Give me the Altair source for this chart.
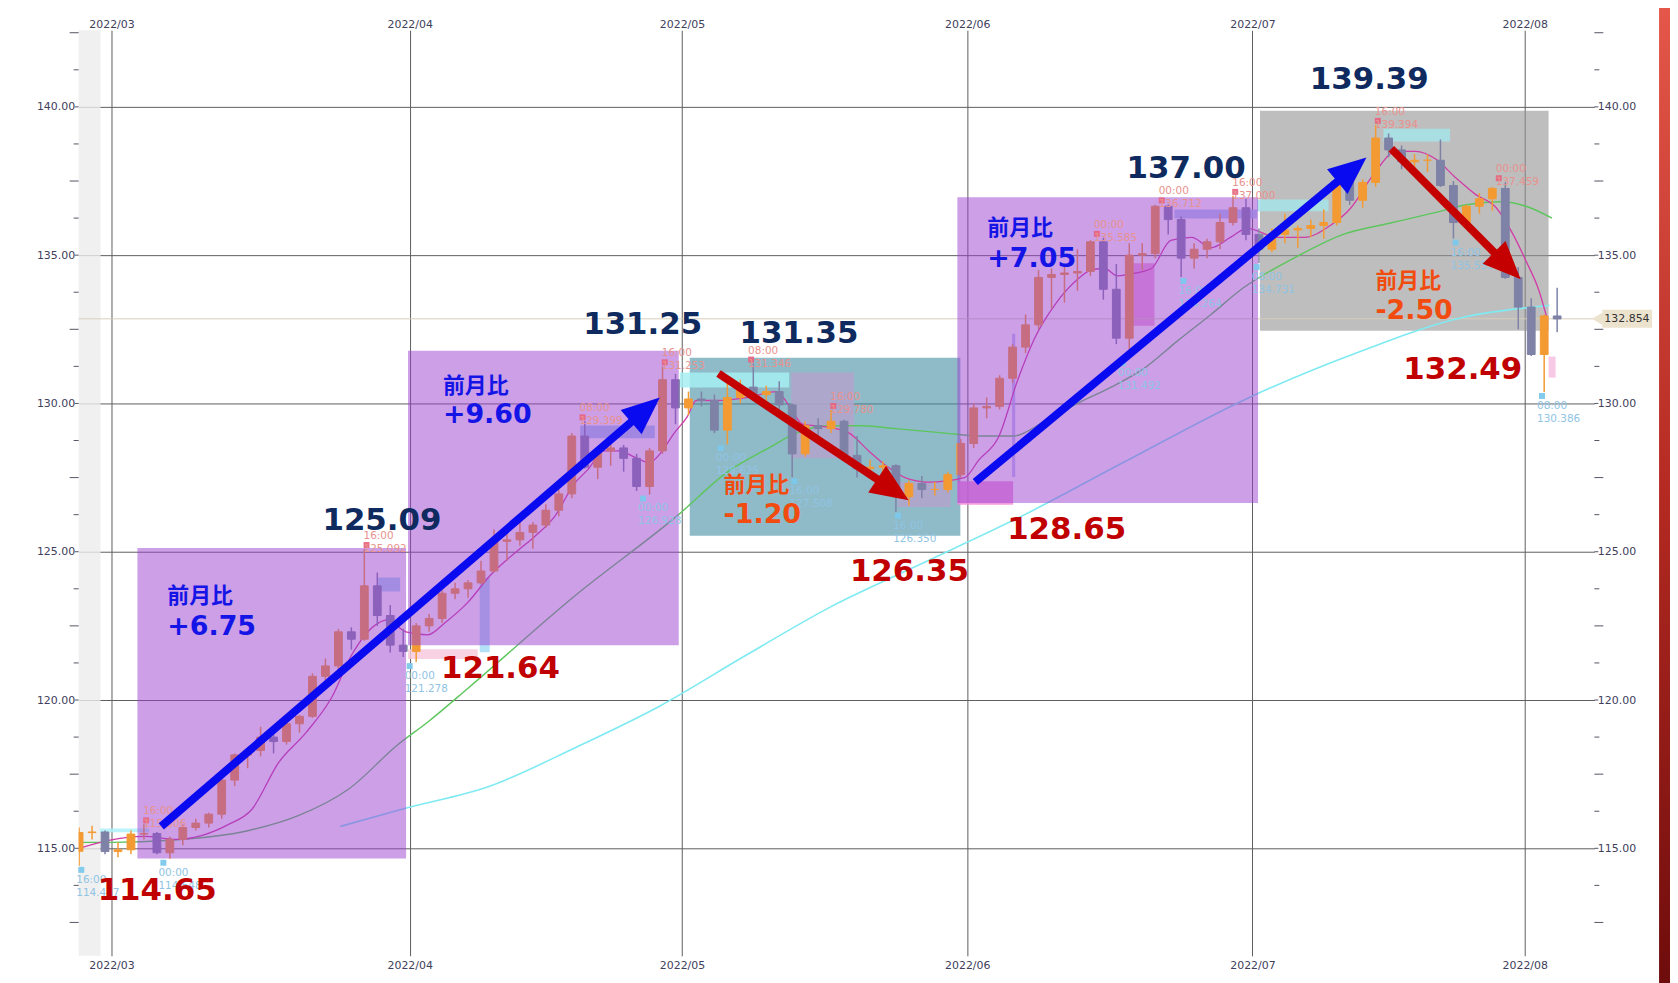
import math
import json
import altair as alt
import pandas as pd

# ---------------- geometry of the plot ----------------
W, H = 1523, 930
X_DOMAIN = [-2.533, 114.37]      # trading-day index (0 = 2022-03-01)
Y_DOMAIN = [111.376, 142.584]    # USD/JPY
KX = W / (X_DOMAIN[1] - X_DOMAIN[0])
KY = H / (Y_DOMAIN[1] - Y_DOMAIN[0])

# ---------------- calendar ----------------
TRADING_DAYS = list(pd.bdate_range("2022-02-24", "2022-08-03"))
ORIGIN = TRADING_DAYS.index(pd.Timestamp("2022-03-01"))
DAY_INDEX = [i - ORIGIN for i in range(len(TRADING_DAYS))]
MONTH_STARTS = ["2022-03-01", "2022-04-01", "2022-05-02", "2022-06-01", "2022-07-01", "2022-08-01"]
MONTH_LABELS = ["2022/03", "2022/04", "2022/05", "2022/06", "2022/07", "2022/08"]
MONTH_DAYS = [TRADING_DAYS.index(pd.Timestamp(m)) - ORIGIN for m in MONTH_STARTS]

# ---------------- daily candles ----------------
OPEN = [114.90, 115.53, 115.55,
        114.89, 114.95, 115.48, 115.50, 114.85, 115.30, 115.70, 115.85, 116.15, 117.30, 118.15, 118.30,
        118.75, 118.60, 119.20, 119.45, 120.80, 121.15, 122.30, 122.05, 123.85, 122.85, 121.85,
        121.64, 122.50, 122.75, 123.60, 123.75, 123.95, 124.35, 125.35, 125.40, 125.65, 125.90, 126.40,
        126.95, 128.90, 127.85, 128.40, 128.50, 128.15, 127.20, 128.40, 130.80,
        129.85, 130.15, 130.10, 129.10, 130.20, 130.55, 130.30, 130.40, 129.95, 128.30, 129.25, 129.15,
        129.40, 128.25, 127.80, 127.85, 127.90, 126.85, 127.30, 127.10, 127.10, 127.60,
        128.65, 129.85, 129.90, 130.85, 131.90, 132.65, 134.25, 134.35, 134.40, 134.45, 135.45, 133.85,
        132.20, 135.00, 135.05, 136.65, 136.20, 134.90, 135.20, 135.45, 136.10, 136.60,
        135.70, 135.20, 135.70, 135.85, 135.90, 136.00, 136.10, 137.45, 136.85, 137.45, 138.95, 138.55,
        138.15, 138.20, 138.20, 137.35, 136.10, 136.65, 136.90, 137.25, 134.25,
        133.25, 131.65, 132.95]
HIGH = [115.70, 115.76, 115.60,
        115.20, 115.60, 115.81, 115.55, 115.40, 115.80, 116.00, 116.20, 117.40, 118.20, 118.40, 119.10,
        119.00, 119.40, 119.50, 120.90, 121.40, 122.40, 122.45, 125.09, 124.30, 123.20, 122.40,
        122.60, 122.90, 123.70, 123.95, 124.05, 124.70, 125.75, 125.60, 126.30, 126.00, 126.60, 127.10,
        129.00, 129.40, 128.50, 128.70, 128.60, 128.30, 128.50, 131.25, 131.00,
        130.40, 130.40, 130.30, 130.80, 130.80, 131.35, 130.60, 130.75, 130.00, 129.40, 129.50, 129.78,
        129.45, 128.90, 128.10, 128.05, 127.95, 127.40, 127.55, 127.35, 127.70, 128.80,
        130.00, 130.20, 130.95, 132.00, 133.00, 134.50, 134.55, 134.60, 135.20, 135.50, 135.59, 134.70,
        135.40, 135.40, 136.70, 136.71, 136.30, 135.40, 135.55, 136.40, 137.00, 136.90,
        135.90, 135.90, 136.40, 136.00, 136.20, 136.55, 137.75, 137.85, 137.55, 139.39, 139.10, 138.70,
        138.40, 138.40, 138.90, 137.50, 136.70, 137.10, 137.30, 137.46, 134.60,
        133.55, 133.00, 133.90]
LOW = [114.41, 115.30, 114.80,
       114.70, 114.80, 115.30, 114.80, 114.65, 115.10, 115.60, 115.70, 116.00, 117.10, 117.70, 118.10,
       118.20, 118.50, 118.90, 119.40, 120.50, 121.00, 121.70, 122.00, 122.50, 121.60, 121.45,
       121.28, 122.30, 122.60, 123.40, 123.45, 123.90, 124.30, 124.70, 125.20, 125.10, 125.80, 126.20,
       126.80, 127.80, 127.45, 127.90, 127.70, 127.05, 126.93, 128.30, 129.30,
       129.60, 129.90, 129.00, 128.62, 130.00, 130.20, 129.90, 129.80, 127.51, 128.20, 128.80, 129.00,
       128.20, 127.50, 127.50, 127.40, 126.35, 126.55, 126.80, 126.90, 127.00, 127.50,
       128.50, 129.50, 129.80, 130.70, 131.70, 132.50, 133.20, 133.40, 133.80, 134.30, 133.50, 132.00,
       131.49, 134.50, 134.90, 135.70, 134.26, 134.55, 134.90, 135.20, 136.00, 135.50,
       134.73, 135.10, 135.40, 135.25, 135.60, 135.55, 136.00, 136.70, 136.60, 137.30, 138.30, 137.90,
       137.90, 137.80, 137.30, 135.56, 135.90, 136.40, 136.50, 134.20, 132.50,
       131.60, 130.39, 132.40]
CLOSE = [115.53, 115.55, 114.89,
         114.95, 115.48, 115.50, 114.85, 115.30, 115.70, 115.85, 116.15, 117.30, 118.15, 118.30, 118.75,
         118.60, 119.20, 119.45, 120.80, 121.15, 122.30, 122.05, 123.85, 122.85, 121.85, 121.64,
         122.50, 122.75, 123.60, 123.75, 123.95, 124.35, 125.35, 125.40, 125.65, 125.90, 126.40, 126.95,
         128.90, 127.85, 128.40, 128.50, 128.15, 127.20, 128.40, 130.80, 129.85,
         130.15, 130.10, 129.10, 130.20, 130.55, 130.30, 130.40, 129.95, 128.30, 129.25, 129.15, 129.40,
         128.25, 127.80, 127.85, 127.90, 126.85, 127.30, 127.10, 127.10, 127.60, 128.65,
         129.85, 129.90, 130.85, 131.90, 132.65, 134.25, 134.35, 134.40, 134.45, 135.45, 133.85, 132.20,
         135.00, 135.05, 136.65, 136.20, 134.90, 135.20, 135.45, 136.10, 136.60, 135.70,
         135.20, 135.70, 135.85, 135.90, 136.00, 136.10, 137.45, 136.85, 137.45, 138.95, 138.55, 138.15,
         138.20, 138.20, 137.35, 136.10, 136.65, 136.90, 137.25, 134.25, 133.25,
         131.65, 132.95, 132.85]
CURRENT_PRICE = 132.854

# ---------------- moving averages ----------------
MA_SHORT_DAY = [-2.5, -0.2, 2.5, 5.0, 7.0, 9.0, 10.8, 12.9, 15.0, 17.0, 18.5, 20.6, 21.3, 22.7, 24.4, 25.7,
                27.5, 29.2, 31.5, 32.6, 34.2, 35.7, 36.7, 38.0, 39.2, 40.3, 41.5, 42.3, 43.4, 44.4, 45.1,
                46.7, 49.0, 51.3, 52.3, 53.3, 55.3, 56.9, 58.4, 59.9, 61.2, 63.0, 65.8, 66.9, 68.4, 69.9,
                71.2, 72.8, 74.3, 75.6, 76.6, 77.6, 78.4, 80.2, 81.7, 83.3, 84.8, 86.3, 87.6, 89.9, 92.0,
                94.0, 95.6, 97.3, 99.1, 100.6, 102.1, 103.7, 105.2, 106.8, 108.1, 109.1, 110.1, 110.7]
MA_SHORT_VAL = [115.0, 115.27, 115.4, 115.3, 115.44, 115.8, 116.3, 117.9, 118.9, 120.1, 121.5, 122.6, 122.7,
                122.3, 122.2, 122.6, 123.3, 124.2, 125.1, 125.5, 126.2, 127.3, 127.75, 128.4, 128.4, 128.2,
                128.0, 128.3, 129.0, 129.55, 130.1, 130.1, 130.2, 130.4, 129.9, 129.3, 129.2, 129.0, 128.4,
                127.85, 127.5, 127.35, 127.5, 128.1, 128.85, 130.8, 132.2, 133.35, 134.1, 134.5, 134.55,
                134.3, 134.35, 134.55, 135.5, 135.6, 135.25, 135.6, 135.9, 135.6, 135.6, 136.0, 136.6,
                137.7, 138.5, 138.5, 138.25, 137.6, 137.05, 136.6, 135.7, 134.8, 133.8, 132.9]
MA_MID_DAY = [-2.5, 0.0, 4.6, 10.6, 14.4, 18.3, 22.1, 24.4, 27.5, 35.7, 43.6, 47.7, 50.7, 52.8, 55.3, 57.9,
              60.5, 64.3, 66.9, 69.5, 72.0, 74.5, 77.1, 79.7, 82.2, 84.8, 87.3, 91.2, 95.0, 98.8, 102.7,
              104.5, 107.1, 109.1, 111.1]
MA_MID_VAL = [115.2, 115.2, 115.27, 115.6, 116.1, 117.0, 118.5, 119.26, 120.4, 123.5, 126.2, 127.75, 128.5,
              129.0, 129.25, 129.25, 129.15, 129.0, 128.9, 128.9, 129.4, 130.0, 130.55, 131.2, 132.1, 133.0,
              133.9, 134.9, 135.7, 136.1, 136.5, 136.7, 136.8, 136.65, 136.25]
MA_LONG_DAY = [17.65, 22.6, 29.2, 35.8, 42.3, 48.9, 55.5, 62.0, 70.2, 78.0, 87.6, 96.0, 104.2, 110.9]
MA_LONG_VAL = [115.74, 116.34, 117.1, 118.4, 119.8, 121.5, 123.15, 124.5, 126.2, 128.0, 130.17, 131.7,
               132.9, 133.3]

# ---------------- monthly boxes ----------------
BOX_X0 = [2.0, 22.87, 44.6, 65.24, 88.58]
BOX_X1 = [22.72, 43.75, 65.47, 88.43, 110.84]
BOX_TOP = [125.13, 131.78, 131.54, 136.95, 139.87]
BOX_BOTTOM = [114.66, 121.85, 125.54, 126.64, 132.45]
BOX_COLOR = ["#9a40d0", "#9a40d0", "#448ca3", "#9a40d0", "#939393"]
BOX_ON_TOP = [True, True, False, True, False]

# ---------------- small indicator zones ----------------
ZONE_X0 = [-0.9, 20.57, 22.87, 28.4, 36.15, 43.83, 52.42, 60.64, 65.24, 78.29, 81.98, 88.35, 98.1, 110.84, 69.46]
ZONE_X1 = [2.9, 22.26, 28.25, 29.17, 41.91, 52.27, 57.26, 64.71, 69.54, 80.44, 88.35, 93.87, 103.24, 111.38, 69.7]
ZONE_TOP = [115.67, 124.13, 121.71, 124.13, 129.26, 131.04, 131.04, 127.35, 127.38, 134.73, 136.54, 136.88,
            139.26, 131.58, 132.35]
ZONE_BOTTOM = [115.54, 123.66, 121.38, 121.61, 128.83, 130.54, 128.15, 126.51, 126.58, 132.62, 136.24, 136.48,
               138.83, 130.87, 127.52]
ZONE_COLOR = ["#aef0f8", "#9fd3f5", "#f7c9dd", "#a4dcf7", "#9cc6f2", "#a6eef2", "#b4a3cc", "#b4a3cc",
              "#f08ad8", "#f09ad8", "#a8c4f4", "#a6e4ea", "#a6e4ea", "#f6bfe0", "#b8b8f8"]

# ---------------- high / low markers ----------------
HI_DAY = [2.67, 19.67, 36.33, 42.67, 49.33, 55.67, 76.0, 81.0, 86.67, 97.67, 107.0]
HI_TIME = ["16:00", "16:00", "08:00", "16:00", "08:00", "16:00", "00:00", "00:00", "16:00", "16:00", "00:00"]
HI_VALUE = ["115.806", "125.092", "129.399", "131.253", "131.346", "129.780", "135.585", "136.712",
            "137.000", "139.394", "137.459"]
LO_DAY = [-2.33, 4.0, 23.0, 41.0, 47.0, 52.67, 60.67, 78.0, 82.67, 88.33, 103.67, 110.33]
LO_TIME = ["16:00", "00:00", "00:00", "00:00", "00:00", "16:00", "16:00", "00:00", "16:00", "08:00",
           "16:00", "08:00"]
LO_VALUE = ["114.407", "114.648", "121.278", "126.928", "128.625", "127.508", "126.350", "131.492",
            "134.264", "134.731", "135.555", "130.386"]

# ---------------- big annotations ----------------
BIG_TEXT = ["114.65", "125.09", "121.64", "131.25", "131.35", "126.35", "128.65", "137.00", "139.39", "132.49"]
BIG_DAY = [-1.07, 16.27, 25.41, 36.38, 48.43, 56.95, 69.08, 78.29, 92.42, 99.63]
BIG_PRICE = [113.56, 126.04, 121.04, 132.65, 132.35, 124.33, 125.74, 137.89, 140.91, 131.11]
BIG_IS_HIGH = [False, True, False, True, True, False, False, True, True, False]

MOM_TITLE = ["前月比", "前月比", "前月比", "前月比", "前月比"]
MOM_VALUE = ["+6.75", "+9.60", "-1.20", "+7.05", "-2.50"]
MOM_DAY = [4.30, 25.56, 47.21, 67.55, 97.48]
MOM_TITLE_PRICE = [123.49, 130.60, 127.25, 135.91, 134.13]
MOM_VALUE_PRICE = [122.45, 129.60, 126.24, 134.87, 133.12]

# ---------------- arrows ----------------
ARROW_START_DAY = [3.84, 46.82, 66.62, 98.71]
ARROW_START_PRICE = [115.74, 131.01, 127.35, 138.59]
ARROW_TIP_DAY = [42.29, 61.48, 96.79, 108.69]
ARROW_TIP_PRICE = [130.20, 126.74, 138.29, 134.19]
ARROW_COLOR = ["#0a0af0", "#c40000", "#0a0af0", "#c40000"]
HEAD_LEN = 38

# ---------------- axis ticks ----------------
Y_LABEL_TICKS = [115, 120, 125, 130, 135, 140]
Y_LONG_TICKS = [112.5, 117.5, 122.5, 127.5, 132.5, 137.5, 142.5]
Y_SHORT_TICKS = [113.75, 116.25, 118.75, 121.25, 123.75, 126.25, 128.75, 131.25, 133.75, 136.25, 138.75, 141.25]

# =============================================================
FONT = "DejaVu Sans"
AXIS_COLOR = "#40405c"
GRID_COLOR = "#5e5e5e"

XS = alt.Scale(domain=X_DOMAIN, nice=False, zero=False)
YS = alt.Scale(domain=Y_DOMAIN, nice=False, zero=False)
x_label_expr = "{}[indexof({}, datum.value)]".format(json.dumps(MONTH_LABELS).replace('"', "'"),
                                                     json.dumps(MONTH_DAYS))
X_AX = alt.Axis(values=MONTH_DAYS, labelExpr=x_label_expr, grid=True, gridColor=GRID_COLOR, gridWidth=1,
                ticks=False, domain=False, labelFont=FONT, labelFontSize=11, labelColor=AXIS_COLOR,
                labelPadding=4, labelFlush=False, title=None, orient="bottom")
Y_AX = alt.Axis(values=Y_LABEL_TICKS, format=".2f", grid=True, gridColor=GRID_COLOR, gridWidth=1,
                ticks=False, domain=False, labelFont=FONT, labelFontSize=11, labelColor=AXIS_COLOR,
                labelPadding=4, title=None, orient="left")
X_AX_TOP = alt.Axis(values=MONTH_DAYS, labelExpr=x_label_expr, grid=False, ticks=False, domain=False,
                    labelFont=FONT, labelFontSize=11, labelColor=AXIS_COLOR, labelPadding=1,
                    labelFlush=False, title=None, orient="top")
Y_AX_RIGHT = alt.Axis(values=Y_LABEL_TICKS, format=".2f", grid=False, ticks=False, domain=False,
                      labelFont=FONT, labelFontSize=11, labelColor=AXIS_COLOR, labelPadding=3,
                      title=None, orient="right")


def ex(f):
    return alt.X(f, type="quantitative", scale=XS, axis=X_AX)


def ey(f):
    return alt.Y(f, type="quantitative", scale=YS, axis=Y_AX)


one = pd.DataFrame({"a": [0]})
layers = []

# light stripe at the left edge
layers.append(alt.Chart(one).mark_rect(color="#ececec", opacity=0.8).encode(
    x=alt.value(0), x2=alt.value(22), y=alt.value(0), y2=alt.value(H)))

# boxes below the candles
boxes = pd.DataFrame({"x0": BOX_X0, "x1": BOX_X1, "top": BOX_TOP, "bot": BOX_BOTTOM,
                      "col": BOX_COLOR, "on_top": BOX_ON_TOP})
layers.append(alt.Chart(boxes[~boxes.on_top]).mark_rect(opacity=0.6).encode(
    x=ex("x0"), x2=alt.X2("x1"), y=ey("top"), y2=alt.Y2("bot"), color=alt.Color("col:N", scale=None)))

zones = pd.DataFrame({"x0": ZONE_X0, "x1": ZONE_X1, "top": ZONE_TOP, "bot": ZONE_BOTTOM, "col": ZONE_COLOR})
layers.append(alt.Chart(zones).mark_rect(opacity=0.85).encode(
    x=ex("x0"), x2=alt.X2("x1"), y=ey("top"), y2=alt.Y2("bot"), color=alt.Color("col:N", scale=None)))

# current price line
layers.append(alt.Chart(pd.DataFrame({"p": [CURRENT_PRICE]})).mark_rule(color="#d8d0bc", strokeWidth=1).encode(
    y=ey("p")))

# moving averages
for days, vals, col, sw in [(MA_LONG_DAY, MA_LONG_VAL, "#7eeaf2", 1.6),
                            (MA_MID_DAY, MA_MID_VAL, "#5cc65c", 1.4),
                            (MA_SHORT_DAY, MA_SHORT_VAL, "#d23ca6", 1.3)]:
    layers.append(alt.Chart(pd.DataFrame({"d": days, "v": vals})).mark_line(
        color=col, strokeWidth=sw, clip=True, interpolate="monotone").encode(x=ex("d"), y=ey("v")))

# candles
candles = pd.DataFrame({"d": DAY_INDEX, "o": OPEN, "h": HIGH, "l": LOW, "c": CLOSE})
candles["mid"] = candles.d + 0.5
candles["b0"] = candles.d + 0.2
candles["b1"] = candles.d + 0.8
candles["col"] = ["#f39a33" if c >= o else "#7e82a6" for o, c in zip(OPEN, CLOSE)]
layers.append(alt.Chart(candles).mark_rule(strokeWidth=1.5, clip=True).encode(
    x=ex("mid"), y=ey("h"), y2=alt.Y2("l"), color=alt.Color("col:N", scale=None)))
layers.append(alt.Chart(candles).mark_rect(clip=True, strokeWidth=1).encode(
    x=ex("b0"), x2=alt.X2("b1"), y=ey("o"), y2=alt.Y2("c"),
    color=alt.Color("col:N", scale=None), stroke=alt.Stroke("col:N", scale=None)))

# purple boxes on top (translucent)
layers.append(alt.Chart(boxes[boxes.on_top]).mark_rect(opacity=0.5).encode(
    x=ex("x0"), x2=alt.X2("x1"), y=ey("top"), y2=alt.Y2("bot"), color=alt.Color("col:N", scale=None)))

# high / low markers
hi = pd.DataFrame({"d": HI_DAY, "p": [float(v) for v in HI_VALUE],
                   "t": [a + "\n" + b for a, b in zip(HI_TIME, HI_VALUE)]})
lo = pd.DataFrame({"d": LO_DAY, "p": [float(v) for v in LO_VALUE],
                   "t": [a + "\n" + b for a, b in zip(LO_TIME, LO_VALUE)]})
layers.append(alt.Chart(hi).mark_square(size=36, color="#e8607e", opacity=0.9).encode(
    x=ex("d"), y=ey("p"), yOffset=alt.value(-4)))
layers.append(alt.Chart(lo).mark_square(size=36, color="#7cc8ec", opacity=0.95).encode(
    x=ex("d"), y=ey("p"), yOffset=alt.value(4)))
layers.append(alt.Chart(hi).mark_text(align="left", baseline="bottom", dx=-3, dy=-8, fontSize=10.5,
                                      font=FONT, color="#e8928e", lineBreak="\n", lineHeight=13).encode(
    x=ex("d"), y=ey("p"), text="t:N"))
layers.append(alt.Chart(lo).mark_text(align="left", baseline="top", dx=-5, dy=9, fontSize=10.5,
                                      font=FONT, color="#8fc4e4", lineBreak="\n", lineHeight=13).encode(
    x=ex("d"), y=ey("p"), text="t:N"))

# tick marks on both sides
for vals, length in [(Y_LABEL_TICKS, 4), (Y_LONG_TICKS, 9), (Y_SHORT_TICKS, 5)]:
    tdf = pd.DataFrame({"v": vals})
    layers.append(alt.Chart(tdf).mark_rule(color="#555566", strokeWidth=1).encode(
        x=alt.value(-length), x2=alt.value(0), y=ey("v")))
    layers.append(alt.Chart(tdf).mark_rule(color="#555566", strokeWidth=1).encode(
        x=alt.value(W), x2=alt.value(W + length), y=ey("v")))

# arrows
line_rows, head_rows = [], []
for i, (sd, sp, td, tp, col) in enumerate(zip(ARROW_START_DAY, ARROW_START_PRICE, ARROW_TIP_DAY,
                                              ARROW_TIP_PRICE, ARROW_COLOR)):
    dxp = (td - sd) * KX
    dyp = -(tp - sp) * KY
    n = math.hypot(dxp, dyp)
    ux, uy = dxp / n, dyp / n
    ang = math.degrees(math.atan2(ux, -uy)) % 360
    cd = td - (HEAD_LEN / 2) * ux / KX
    cp = tp + (HEAD_LEN / 2) * uy / KY
    line_rows += [{"id": i, "k": 0, "d": sd, "p": sp, "col": col},
                  {"id": i, "k": 1, "d": cd, "p": cp, "col": col}]
    head_rows.append({"d": cd, "p": cp, "ang": ang, "col": col})
layers.append(alt.Chart(pd.DataFrame(line_rows)).mark_line(strokeWidth=8, strokeCap="butt").encode(
    x=ex("d"), y=ey("p"), detail="id:N", order="k:Q", color=alt.Color("col:N", scale=None)))
layers.append(alt.Chart(pd.DataFrame(head_rows)).mark_point(
    shape="M0,-1L-0.85,1L0.85,1Z", filled=True, size=HEAD_LEN ** 2, opacity=1, strokeWidth=0).encode(
    x=ex("d"), y=ey("p"), angle=alt.Angle("ang:Q", scale=None), color=alt.Color("col:N", scale=None)))

# big price annotations
big = pd.DataFrame({"d": BIG_DAY, "p": BIG_PRICE, "t": BIG_TEXT,
                    "col": ["#0f2a5e" if h else "#c00000" for h in BIG_IS_HIGH]})
layers.append(alt.Chart(big).mark_text(align="left", baseline="middle", fontSize=31, font=FONT,
                                       fontWeight="bold").encode(
    x=ex("d"), y=ey("p"), text="t:N", color=alt.Color("col:N", scale=None)))

mom_col = ["#1414e6" if v.startswith("+") else "#f24b0f" for v in MOM_VALUE]
mom_t = pd.DataFrame({"d": MOM_DAY, "p": MOM_TITLE_PRICE, "t": MOM_TITLE, "col": mom_col})
mom_v = pd.DataFrame({"d": MOM_DAY, "p": MOM_VALUE_PRICE, "t": MOM_VALUE, "col": mom_col})
layers.append(alt.Chart(mom_t).mark_text(align="left", baseline="middle", fontSize=22,
                                         font="Noto Sans CJK JP", fontWeight="bold").encode(
    x=ex("d"), y=ey("p"), text="t:N", color=alt.Color("col:N", scale=None)))
layers.append(alt.Chart(mom_v).mark_text(align="left", baseline="middle", fontSize=27, font=FONT,
                                         fontWeight="bold").encode(
    x=ex("d"), y=ey("p"), text="t:N", color=alt.Color("col:N", scale=None)))

# current price tag on the right axis
tag = pd.DataFrame({"p": [CURRENT_PRICE], "hi": [CURRENT_PRICE + 9 / KY], "lo": [CURRENT_PRICE - 9 / KY],
                    "t": ["{:.3f}".format(CURRENT_PRICE)]})
layers.append(alt.Chart(tag).mark_rect(color="#ece3cf").encode(
    x=alt.value(W + 8), x2=alt.value(W + 58), y=ey("hi"), y2=alt.Y2("lo")))
layers.append(alt.Chart(tag).mark_point(shape="triangle-left", filled=True, size=230, color="#ece3cf",
                                        opacity=1).encode(x=alt.value(W + 4), y=ey("p")))
layers.append(alt.Chart(tag).mark_text(align="left", baseline="middle", fontSize=11, font=FONT,
                                       color="#333333").encode(x=alt.value(W + 10), y=ey("p"), text="t:N"))

# red frame strip on the right
grad = alt.LinearGradient(gradient="linear", x1=0, x2=0, y1=0, y2=1,
                          stops=[alt.GradientStop(color="#e4574a", offset=0),
                                 alt.GradientStop(color="#b42a22", offset=0.5),
                                 alt.GradientStop(color="#6e0c0c", offset=1)])
layers.append(alt.Chart(one).mark_rect(fill=grad).encode(
    x=alt.value(W + 65), x2=alt.value(W + 80), y=alt.value(-25), y2=alt.value(H + 30)))

main = alt.layer(*layers)

side = alt.Chart(pd.DataFrame({"d": [0.0], "p": [130.0]})).mark_point(opacity=0).encode(
    x=alt.X("d:Q", scale=XS, axis=X_AX_TOP), y=alt.Y("p:Q", scale=YS, axis=Y_AX_RIGHT))

chart = alt.layer(main, side).resolve_scale(x="independent", y="independent").properties(
    width=W, height=H, autosize="none",
    padding={"left": 71, "top": 20, "right": 76, "bottom": 25},
    background="white",
).configure_view(stroke=None)

chart.save("out.html", embed_options={"renderer": "svg", "actions": False})
